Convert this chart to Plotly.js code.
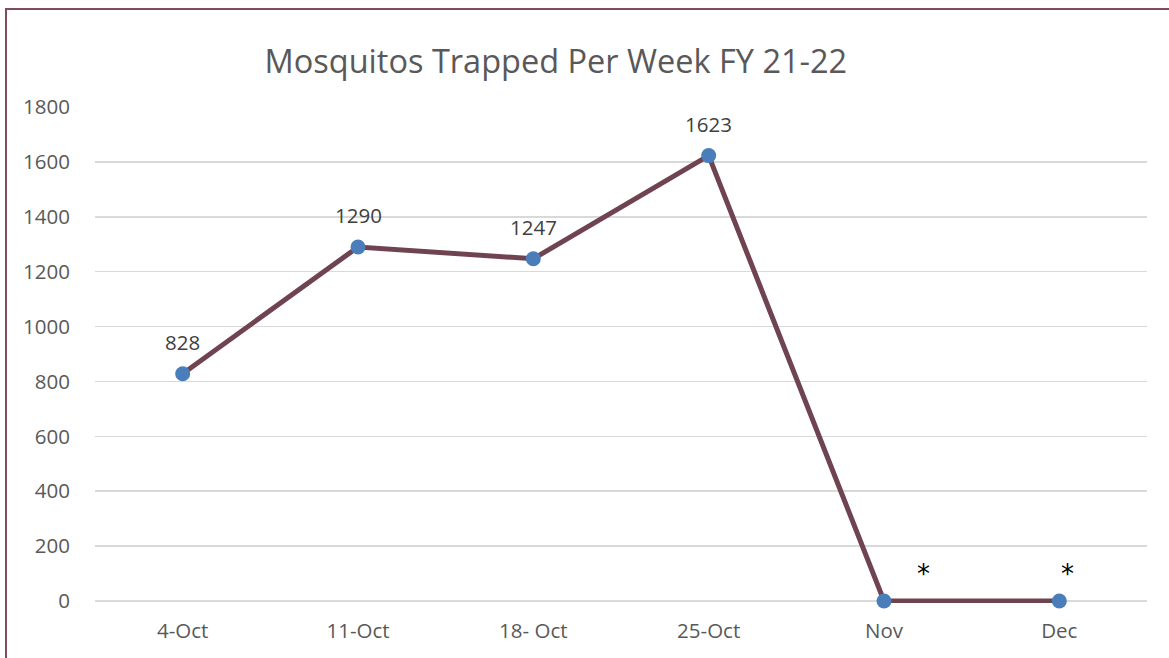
<!DOCTYPE html>
<html>
<head>
<meta charset="utf-8">
<script src="https://cdn.plot.ly/plotly-3.0.1.min.js"></script>
<style>
html,body{margin:0;padding:0;background:#fff;overflow:hidden;}
#frame{position:absolute;left:5px;top:8px;width:1200px;height:700px;border-top:2px solid #7b4f5a;border-left:2px solid #7b4f5a;box-sizing:border-box;pointer-events:none;z-index:5;}
#chart{position:absolute;left:0;top:0;width:1169px;height:658px;}
</style>
</head>
<body>
<div id="chart"></div>
<div id="frame"></div>
<script>
const categories = ['4-Oct', '11-Oct', '18- Oct', '25-Oct', 'Nov', 'Dec'];
const mosquitos = [828, 1290, 1247, 1623, 0, 0];
const pointLabels = ['828', '1290', '1247', '1623', '*', '*'];
const yTicks = [0, 200, 400, 600, 800, 1000, 1200, 1400, 1600, 1800];

const labelFont = {family: 'Open Sans, sans-serif', size: 20.5, color: '#404040'};
const starFont = {family: 'DejaVu Sans, sans-serif', size: 26, color: '#000000'};
const starShift = {'Nov': 39, 'Dec': 8};

const annotations = categories.map((c, i) => {
  const isStar = pointLabels[i] === '*';
  return {
    x: c, y: mosquitos[i], xref: 'x', yref: 'y',
    text: pointLabels[i], showarrow: false,
    font: isStar ? starFont : labelFont,
    xshift: isStar ? starShift[c] : 0,
    yshift: isStar ? 27 : 32
  };
});

const trace = {
  x: categories, y: mosquitos, type: 'scatter', mode: 'lines+markers',
  line: {color: '#6f4450', width: 5},
  marker: {color: '#4a7ebb', size: 15},
  cliponaxis: false, hoverinfo: 'none'
};

const layout = {
  width: 1169, height: 658,
  margin: {l: 95, r: 22, t: 107, b: 55},
  paper_bgcolor: '#ffffff', plot_bgcolor: '#ffffff',
  showlegend: false,
  title: {
    text: 'Mosquitos Trapped Per Week FY 21-22',
    font: {family: 'Open Sans, sans-serif', size: 32.5, color: '#595959'},
    x: 0.4381, xref: 'paper', xanchor: 'center',
    y: 1 - 62 / 658, yref: 'container', yanchor: 'middle'
  },
  xaxis: {
    type: 'category', range: [-0.5, 5.5], showgrid: false, zeroline: false,
    showline: false, ticks: '', ticklabelstandoff: 13,
    tickfont: {family: 'Open Sans, sans-serif', size: 20.5, color: '#595959'},
    fixedrange: true
  },
  yaxis: {
    range: [-7.3, 1800], tickvals: yTicks, ticktext: yTicks.map(String),
    showgrid: true, gridcolor: '#d9d9d9', gridwidth: 1.5, zeroline: false,
    showline: false, ticks: '', ticklabelstandoff: 24,
    tickfont: {family: 'Open Sans, sans-serif', size: 20.5, color: '#595959'},
    fixedrange: true
  },
  annotations: annotations
};

Plotly.newPlot('chart', [trace], layout, {displayModeBar: false, staticPlot: true});
</script>
</body>
</html>
